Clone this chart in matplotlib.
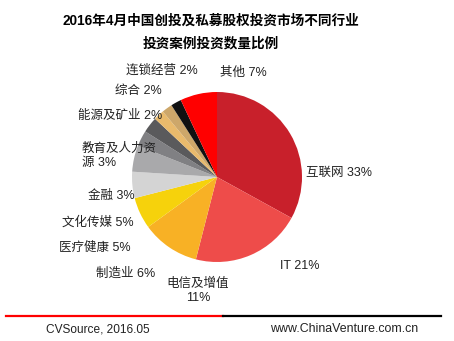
import matplotlib
matplotlib.use("Agg")
import matplotlib.pyplot as plt
from matplotlib.lines import Line2D

plt.rcParams['font.family'] = ['Liberation Sans', 'Noto Sans CJK SC', 'DejaVu Sans']

# data
industries = ['互联网', 'IT', '电信及增值', '制造业', '医疗健康', '文化传媒', '金融',
              '教育及人力资源', '能源及矿业', '综合', '连锁经营', '其他']
shares = [33, 21, 11, 6, 5, 5, 3, 3, 2, 2, 2, 7]
label_texts = ['互联网 33%', 'IT 21%', '电信及增值\n11%', '制造业 6%', '医疗健康 5%',
               '文化传媒 5%', '金融 3%', '教育及人力资\n源 3%', '能源及矿业 2%',
               '综合 2%', '连锁经营 2%', '其他 7%']
colors = ['#C8202B', '#EE4C4A', '#F8B125', '#F6D20C', '#D4D4D4', '#A9A9AB',
          '#808083', '#5A5A5C', '#E9BA6C', '#CDA76A', '#111111', '#FF0000']

W, H = 454, 341
fig = plt.figure(figsize=(W / 100, H / 100), dpi=100)
fig.patch.set_facecolor('white')

# pie axes, centre (217,177) px, radius ~85 px
cx, cy, r = 217, 177, 85
ax = fig.add_axes([(cx - r) / W, 1 - (cy + r) / H, 2 * r / W, 2 * r / H])
ax.pie(shares, colors=colors, startangle=90, counterclock=False,
       wedgeprops=dict(linewidth=0))
ax.set_xlim(-1, 1)
ax.set_ylim(-1, 1)
ax.set_aspect('equal')
ax.axis('off')

def px(x, y):
    return x / W, 1 - y / H

# label placement (pixel coords, anchor)
label_pos = [
    (306, 173, 'left', 'center'),
    (280, 266, 'left', 'center'),
    (198, 291, 'center', 'center'),
    (155, 274, 'right', 'center'),
    (131, 248, 'right', 'center'),
    (134, 222, 'right', 'center'),
    (135, 196, 'right', 'center'),
    (82, 156, 'left', 'center'),
    (162, 116, 'right', 'center'),
    (162, 91, 'right', 'center'),
    (198, 71, 'right', 'center'),
    (220, 73, 'left', 'center'),
]
for txt, (x, y, ha, va) in zip(label_texts, label_pos):
    fig.text(*px(x, y), txt, ha=ha, va=va, fontsize=9, color='#222222',
             linespacing=1.3, multialignment='center' if ha == 'center' else 'left')

# title
fig.text(*px(211, 21), '2016年4月中国创投及私募股权投资市场不同行业',
         ha='center', va='center', fontsize=9.8, fontweight='bold')
fig.text(*px(211, 43), '投资案例投资数量比例',
         ha='center', va='center', fontsize=9.8, fontweight='bold')

# footer line and text
fig.add_artist(Line2D([6 / W, 223 / W], [1 - 316 / H] * 2, color='#FF0000', lw=1.6))
fig.add_artist(Line2D([223 / W, 441 / W], [1 - 316 / H] * 2, color='#000000', lw=1.6))
fig.text(*px(46, 329), 'CVSource, 2016.05', ha='left', va='center', fontsize=8.6, color='#222222')
fig.text(*px(270, 329), 'www.ChinaVenture.com.cn', ha='left', va='center', fontsize=8.9, color='#222222')

fig.savefig('out.png', dpi=100)
